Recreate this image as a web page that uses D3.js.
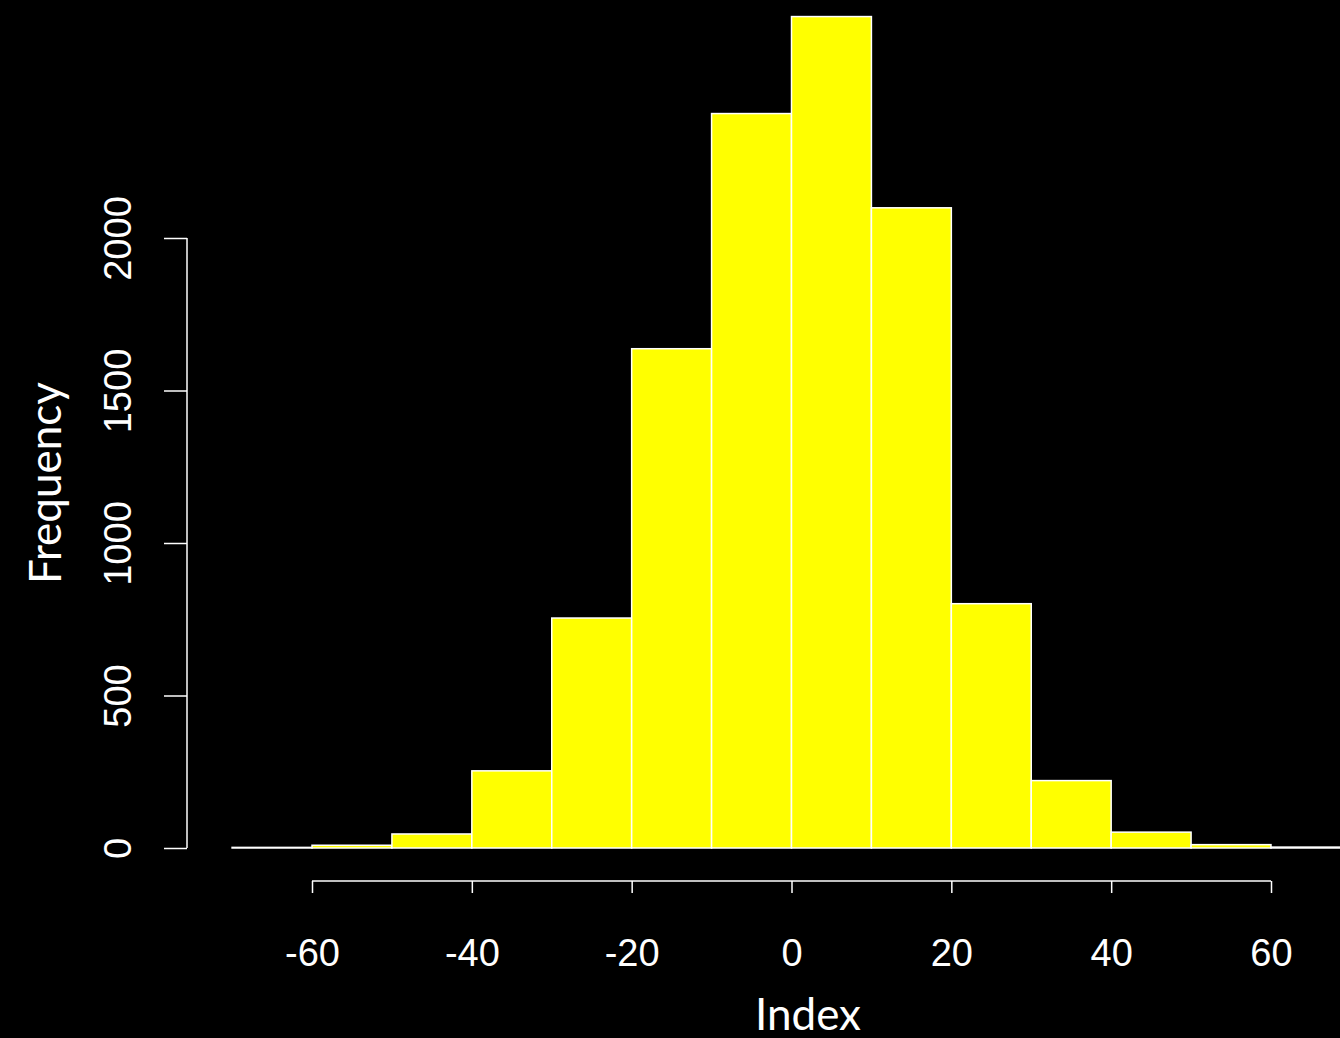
<!DOCTYPE html>
<html>
<head>
<meta charset="utf-8">
<script src="https://cdn.jsdelivr.net/npm/d3@7"></script>
<style>
html,body{margin:0;padding:0;background:#000;}
svg{display:block;}
</style>
</head>
<body>
<svg id="chart" width="1340" height="1038"></svg>
<script>
const binStarts = [-70,-60,-50,-40,-30,-20,-10,0,10,20,30,40,50,60];
const binWidth = 10;
const counts = [2,9,46,253,754,1637,2408,2726,2099,801,221,52,11,3];
const xTicks = [-60,-40,-20,0,20,40,60];
const yTicks = [0,500,1000,1500,2000];
const xLabel = "Index";
const yLabel = "Frequency";

const svg = d3.select("#chart");
svg.append("rect").attr("width",1340).attr("height",1038).attr("fill","#000");

const x = d3.scaleLinear().domain([-60,60]).range([312,1271]);
const y = d3.scaleLinear().domain([0,2000]).range([848,238]);

const bins = binStarts.map((s,i)=>({x0:s,x1:s+binWidth,n:counts[i]}));

svg.append("g").selectAll("rect").data(bins).enter().append("rect")
  .attr("x",d=>x(d.x0))
  .attr("width",d=>x(d.x1)-x(d.x0))
  .attr("y",d=>y(d.n))
  .attr("height",d=>y(0)-y(d.n))
  .attr("fill","#ffff00")
  .attr("stroke","#ffffff")
  .attr("stroke-width",1.5);

// X axis
const xAxis = d3.axisBottom(x).tickValues(xTicks).tickSize(12).tickSizeOuter(0)
  .tickFormat(d=>String(d));
const gx = svg.append("g").attr("transform","translate(0,881)").call(xAxis);
gx.select(".domain").attr("d",`M${x(-60)},0H${x(60)}`).attr("stroke","#fff").attr("stroke-width",1.5);
gx.selectAll(".tick line").attr("stroke","#fff").attr("stroke-width",1.5);
gx.selectAll(".tick text").attr("fill","#fff").attr("font-family","'Liberation Sans', Arial, sans-serif")
  .attr("font-size",38).attr("y",85).attr("dy","0");

// Y axis
const yAxis = d3.axisLeft(y).tickValues(yTicks).tickSize(23).tickSizeOuter(0).tickPadding(0);
const gy = svg.append("g").attr("transform","translate(187,0)").call(yAxis);
gy.select(".domain").attr("d",`M0,${y(0)}V${y(2000)}`).attr("stroke","#fff").attr("stroke-width",1.5);
gy.selectAll(".tick line").attr("stroke","#fff").attr("stroke-width",1.5);
gy.selectAll(".tick text").remove();
gy.selectAll(".tick").append("text")
  .attr("transform","translate(-56,0) rotate(-90)")
  .attr("text-anchor","middle")
  .attr("fill","#fff")
  .attr("font-family","'Liberation Sans', Arial, sans-serif")
  .attr("font-size",38)
  .text(d=>String(d));

svg.append("text").attr("x",808).attr("y",1030).attr("text-anchor","middle")
  .attr("fill","#fff").attr("font-family","Lato, sans-serif").attr("font-size",44).text(xLabel);
svg.append("text").attr("transform","translate(61,483) rotate(-90)").attr("text-anchor","middle")
  .attr("fill","#fff").attr("font-family","Lato, sans-serif").attr("font-size",44).text(yLabel);
</script>
</body>
</html>
